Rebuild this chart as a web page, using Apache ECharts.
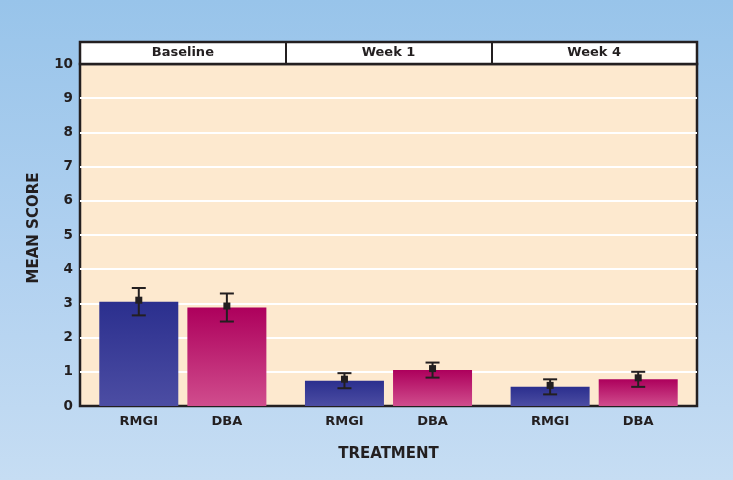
<!DOCTYPE html>
<html>
<head>
<meta charset="utf-8">
<script src="https://cdn.jsdelivr.net/npm/echarts@6/dist/echarts.min.js"></script>
<style>
  html, body { margin: 0; padding: 0; }
  #chart {
    width: 733px; height: 480px;
    background: linear-gradient(to bottom, #98c4ea 0%, #b1d1f0 55%, #c6ddf3 100%);
  }
</style>
</head>
<body>
<div id="chart"></div>
<script>
// data
var groups = ['Baseline', 'Week 1', 'Week 4'];
var yTicks = [0, 1, 2, 3, 4, 5, 6, 7, 8, 9, 10];
var rmgi = [3.05, 0.74, 0.56];
var rmgiErr = [0.40, 0.22, 0.22];
var dba = [2.88, 1.05, 0.78];
var dbaErr = [0.41, 0.22, 0.22];

var barW = 79;
var gapPct = 0.115;
var off = (barW + barW * gapPct) / 2;

var font = 'DejaVu Sans';
var ink = '#231f20';

function errData(vals, errs) {
    return vals.map(function (v, i) { return [i, v - errs[i], v + errs[i], v]; });
}

function errRender(dir) {
    return function (params, api) {
        var x = api.coord([api.value(0), 0])[0] + dir * off;
        var lo = api.coord([api.value(0), api.value(1)])[1];
        var hi = api.coord([api.value(0), api.value(2)])[1];
        var mid = api.coord([api.value(0), api.value(3)])[1];
        var st = { stroke: ink, lineWidth: 2 };
        return {
            type: 'group',
            children: [
                { type: 'line', shape: { x1: x, y1: lo, x2: x, y2: hi }, style: st },
                { type: 'line', shape: { x1: x - 7, y1: hi, x2: x + 7, y2: hi }, style: st },
                { type: 'line', shape: { x1: x - 7, y1: lo, x2: x + 7, y2: lo }, style: st },
                { type: 'rect', shape: { x: x - 3.5, y: mid - 5, width: 7, height: 7 }, style: { fill: ink } }
            ]
        };
    };
}

function grad(top, bottom) {
    return new echarts.graphic.LinearGradient(0, 0, 0, 1, [
        { offset: 0, color: top }, { offset: 1, color: bottom }
    ]);
}

var barLabel = {
    show: true, position: 'bottom', distance: 9,
    formatter: '{a}', color: ink, fontFamily: font, fontWeight: 'bold', fontSize: 13
};

var myChart = echarts.init(document.getElementById('chart'));

var option = {
    backgroundColor: 'transparent',
    animation: false,
    grid: [
        { left: 80, right: 36, top: 64, bottom: 74, show: true, backgroundColor: '#fde9cf', borderColor: ink, borderWidth: 2.5 },
        { left: 80, right: 36, top: 42, height: 22, show: true, backgroundColor: '#ffffff', borderColor: ink, borderWidth: 2.5 }
    ],
    xAxis: [
        {
            type: 'category', gridIndex: 0, data: groups,
            axisLine: { show: false }, axisTick: { show: false }, axisLabel: { show: false },
            name: 'TREATMENT', nameLocation: 'middle', nameGap: 41,
            nameTextStyle: { color: ink, fontFamily: font, fontWeight: 'bold', fontSize: 15 }
        },
        {
            type: 'category', gridIndex: 1, data: groups, position: 'bottom',
            axisLine: { show: false }, axisTick: { show: false },
            axisLabel: { margin: -18, color: ink, fontFamily: font, fontWeight: 'bold', fontSize: 13 },
            splitLine: { show: true, showMinLine: false, showMaxLine: false, lineStyle: { color: ink, width: 2 } }
        }
    ],
    yAxis: [
        {
            type: 'value', gridIndex: 0, min: yTicks[0], max: yTicks[yTicks.length - 1], interval: 1,
            axisLine: { show: false }, axisTick: { show: false },
            axisLabel: { margin: 7, color: ink, fontFamily: font, fontWeight: 'bold', fontSize: 13.5 },
            splitLine: { showMinLine: false, showMaxLine: false, lineStyle: { color: '#ffffff', width: 2 } },
            name: 'MEAN SCORE', nameLocation: 'middle', nameGap: 38,
            nameTextStyle: { color: ink, fontFamily: font, fontWeight: 'bold', fontSize: 15, padding: [0, 0, 0, 14] }
        },
        { type: 'value', gridIndex: 1, show: false, splitLine: { show: false } }
    ],
    series: [
        {
            name: 'RMGI', type: 'bar', xAxisIndex: 0, yAxisIndex: 0, data: rmgi,
            barWidth: barW, barGap: (gapPct * 100) + '%',
            itemStyle: { color: grad('#2b2f8e', '#4c4da3') },
            label: barLabel
        },
        {
            name: 'DBA', type: 'bar', xAxisIndex: 0, yAxisIndex: 0, data: dba,
            barWidth: barW,
            itemStyle: { color: grad('#ad005c', '#d04d8d') },
            label: barLabel
        },
        {
            type: 'custom', xAxisIndex: 0, yAxisIndex: 0, z: 5,
            data: errData(rmgi, rmgiErr), renderItem: errRender(-1)
        },
        {
            type: 'custom', xAxisIndex: 0, yAxisIndex: 0, z: 5,
            data: errData(dba, dbaErr), renderItem: errRender(1)
        }
    ]
};

myChart.setOption(option);
</script>
</body>
</html>
